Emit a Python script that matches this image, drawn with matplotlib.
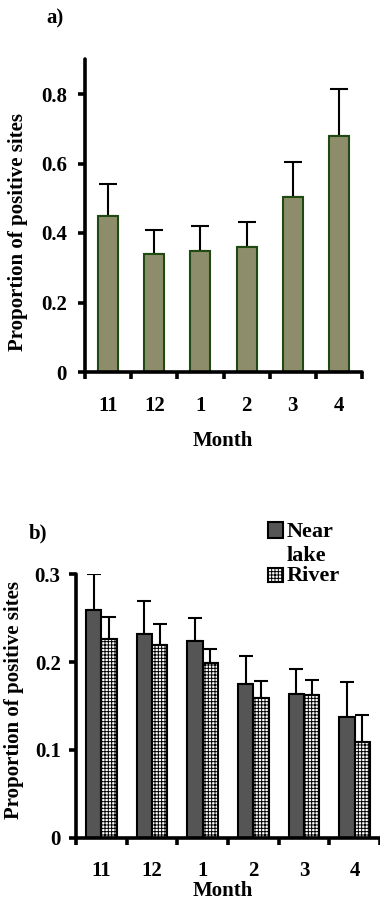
import matplotlib
matplotlib.use("Agg")
import matplotlib.pyplot as plt
from matplotlib.patches import Rectangle
import numpy as np

plt.rcParams['font.family'] = ['Liberation Serif', 'DejaVu Serif']
plt.rcParams['font.weight'] = 'bold'
plt.rcParams['hatch.linewidth'] = 0.7

months = ['11', '12', '1', '2', '3', '4']
a_values = [0.449, 0.340, 0.349, 0.360, 0.504, 0.679]
a_err_top = [0.540, 0.409, 0.420, 0.432, 0.605, 0.814]
b_lake = [0.259, 0.232, 0.224, 0.1755, 0.164, 0.138]
b_lake_top = [0.300, 0.270, 0.250, 0.2066, 0.192, 0.177]
b_river = [0.226, 0.220, 0.199, 0.159, 0.162, 0.109]
b_river_top = [0.251, 0.2435, 0.215, 0.178, 0.1797, 0.140]
a_yticks = [0, 0.2, 0.4, 0.6, 0.8]
a_ytick_labels = ['0', '0.2', '0.4', '0.6', '0.8']
b_yticks = [0, 0.1, 0.2, 0.3]
b_ytick_labels = ['0', '0.1', '0.2', '0.3']

W, H = 380, 901
FS = 15
fig = plt.figure(figsize=(W / 100, H / 100), dpi=100)

def px_axes(l, r, top, bottom):
    return fig.add_axes([l / W, 1 - bottom / H, (r - l) / W, (bottom - top) / H])

def style(ax, pad_y, pad_x):
    for s in ['top', 'right']:
        ax.spines[s].set_visible(False)
    for s in ['left', 'bottom']:
        ax.spines[s].set_linewidth(2.6)
        ax.spines[s].set_capstyle('round')
    n = len(months)
    x = np.arange(n)
    ax.set_xlim(-0.5, n - 0.5)
    ax.set_xticks(x)
    ax.set_xticklabels(months, fontsize=FS, fontweight='bold')
    ax.set_xticks(np.arange(-0.5, n), minor=True)
    ax.tick_params(axis='x', which='major', length=0, pad=pad_x)
    ax.tick_params(axis='x', which='minor', length=5, width=2.6, direction='out')
    ax.tick_params(axis='y', which='major', length=5, width=2.6, direction='out', pad=pad_y, labelsize=FS)
    for t in ax.get_yticklabels():
        t.set_fontweight('bold')

# Panel a
ax1 = px_axes(85, 362, 59.25, 372)
x = np.arange(len(months))
ax1.bar(x, a_values, width=0.43, color='#8e8d6b', edgecolor='#1f4a12', linewidth=1.5, zorder=2)
ax1.errorbar(x, a_values, yerr=[np.zeros(len(x)), np.array(a_err_top) - np.array(a_values)],
             fmt='none', ecolor='black', elinewidth=1.5, capsize=6.5, capthick=1.5, zorder=1)
ax1.set_ylim(0, 0.9)
ax1.set_yticks(a_yticks)
ax1.set_yticklabels(a_ytick_labels)
style(ax1, pad_y=8, pad_x=17)
ax1.set_ylabel('Proportion of positive sites', fontsize=FS, fontweight='bold', va='center')
ax1.yaxis.set_label_coords((18.5 - 85) / 277, (372 - 232) / 312.75)

# Panel b
ax2 = px_axes(76, 380, 574.3, 837.7)
bw = 0.3
ax2.bar(x - bw / 2, b_lake, width=bw, color='#555555', edgecolor='black', linewidth=1.5, zorder=2)
ax2.bar(x + bw / 2, b_river, width=bw, color='white', edgecolor='black', linewidth=1.5,
        hatch='+++++', zorder=2)
ax2.errorbar(x - bw / 2, b_lake, yerr=[np.zeros(len(x)), np.array(b_lake_top) - np.array(b_lake)],
             fmt='none', ecolor='black', elinewidth=1.5, capsize=5, capthick=1.5, zorder=1)
ax2.errorbar(x + bw / 2, b_river, yerr=[np.zeros(len(x)), np.array(b_river_top) - np.array(b_river)],
             fmt='none', ecolor='black', elinewidth=1.5, capsize=5, capthick=1.5, zorder=1)
ax2.set_ylim(0, 0.3)
ax2.set_yticks(b_yticks)
ax2.set_yticklabels(b_ytick_labels)
style(ax2, pad_y=6, pad_x=17)
ax2.set_ylabel('Proportion of positive sites', fontsize=FS, fontweight='bold', va='center')
ax2.yaxis.set_label_coords((14.5 - 76) / 304, (837.7 - 700) / 263.4)

# Axis titles and panel labels
fig.text(223 / W, 1 - 441 / H, 'Month', ha='center', va='center', fontsize=FS, fontweight='bold')
fig.text(223 / W, 1 - 891 / H, 'Month', ha='center', va='center', fontsize=FS, fontweight='bold')
fig.text(55 / W, 1 - 18 / H, 'a)', ha='center', va='center', fontsize=FS, fontweight='bold')
fig.text(38 / W, 1 - 533 / H, 'b)', ha='center', va='center', fontsize=FS, fontweight='bold')

# Legend (manual)
fig.patches.append(Rectangle((268 / W, 1 - 538 / H), 15 / W, 16 / H, transform=fig.transFigure,
                             facecolor='#555555', edgecolor='black', linewidth=1.5))
fig.patches.append(Rectangle((268 / W, 1 - 582 / H), 15 / W, 14 / H, transform=fig.transFigure,
                             facecolor='white', edgecolor='black', linewidth=1.5, hatch='+++++'))
fig.text(287 / W, 1 - 532 / H, 'Near', ha='left', va='center', fontsize=16, fontweight='bold')
fig.text(287 / W, 1 - 556 / H, 'lake', ha='left', va='center', fontsize=16, fontweight='bold')
fig.text(287 / W, 1 - 576 / H, 'River', ha='left', va='center', fontsize=16, fontweight='bold')

fig.savefig('out.png', dpi=100)
